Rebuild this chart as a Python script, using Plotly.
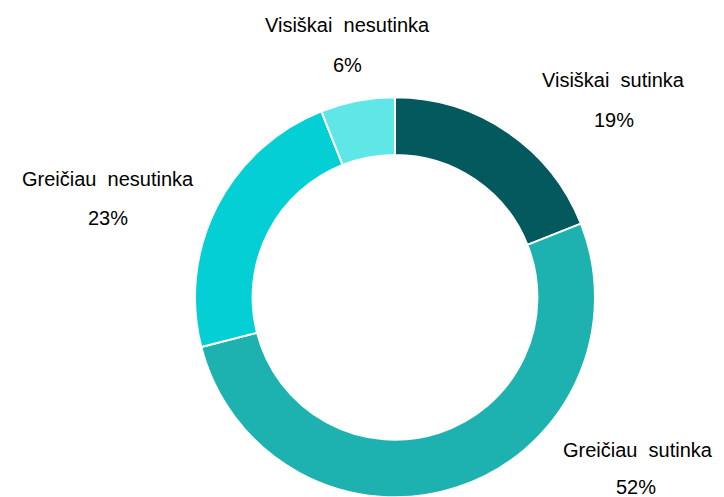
import plotly.graph_objects as go

labels = ["Visiškai sutinka", "Greičiau sutinka", "Greičiau nesutinka", "Visiškai nesutinka"]
values = [19, 52, 23, 6]
colors = ["#03595D", "#1DB2AF", "#03CFD4", "#5FE6E6"]

W, H = 724, 497
OFF = 8  # page body margin offset
# label anchor centers (pixels in final screenshot): name line and percent line
label_pos = [(613, 80, 614, 120), (638, 450, 636, 487), (108, 179, 108, 218), (347, 25, 347, 65)]

fig = go.Figure(go.Pie(
    labels=labels, values=values, sort=False, direction="clockwise", rotation=0,
    hole=0.712, marker=dict(colors=colors, line=dict(color="white", width=2)),
    textinfo="none", hoverinfo="label+percent",
    domain=dict(x=[(195 - OFF) / W, (595 - OFF) / W],
                y=[1 - (497.3 - OFF) / H, 1 - (97.3 - OFF) / H]),
    showlegend=False,
))

font = dict(family="Liberation Sans, Arial, sans-serif", size=20, color="#000000")
for lab, val, (x1, y1, x2, y2) in zip(labels, values, label_pos):
    fig.add_annotation(x=(x1 - OFF) / W, y=1 - (y1 - OFF) / H, xref="paper", yref="paper",
                       text=lab.replace(" ", "\u00a0\u00a0"), showarrow=False, font=font,
                       xanchor="center", yanchor="middle")
    fig.add_annotation(x=(x2 - OFF) / W, y=1 - (y2 - OFF) / H, xref="paper", yref="paper",
                       text=f"{val}%", showarrow=False, font=font,
                       xanchor="center", yanchor="middle")

fig.update_layout(width=W, height=H, margin=dict(l=0, r=0, t=0, b=0),
                  paper_bgcolor="white", plot_bgcolor="white")
fig.write_html("out.html")
